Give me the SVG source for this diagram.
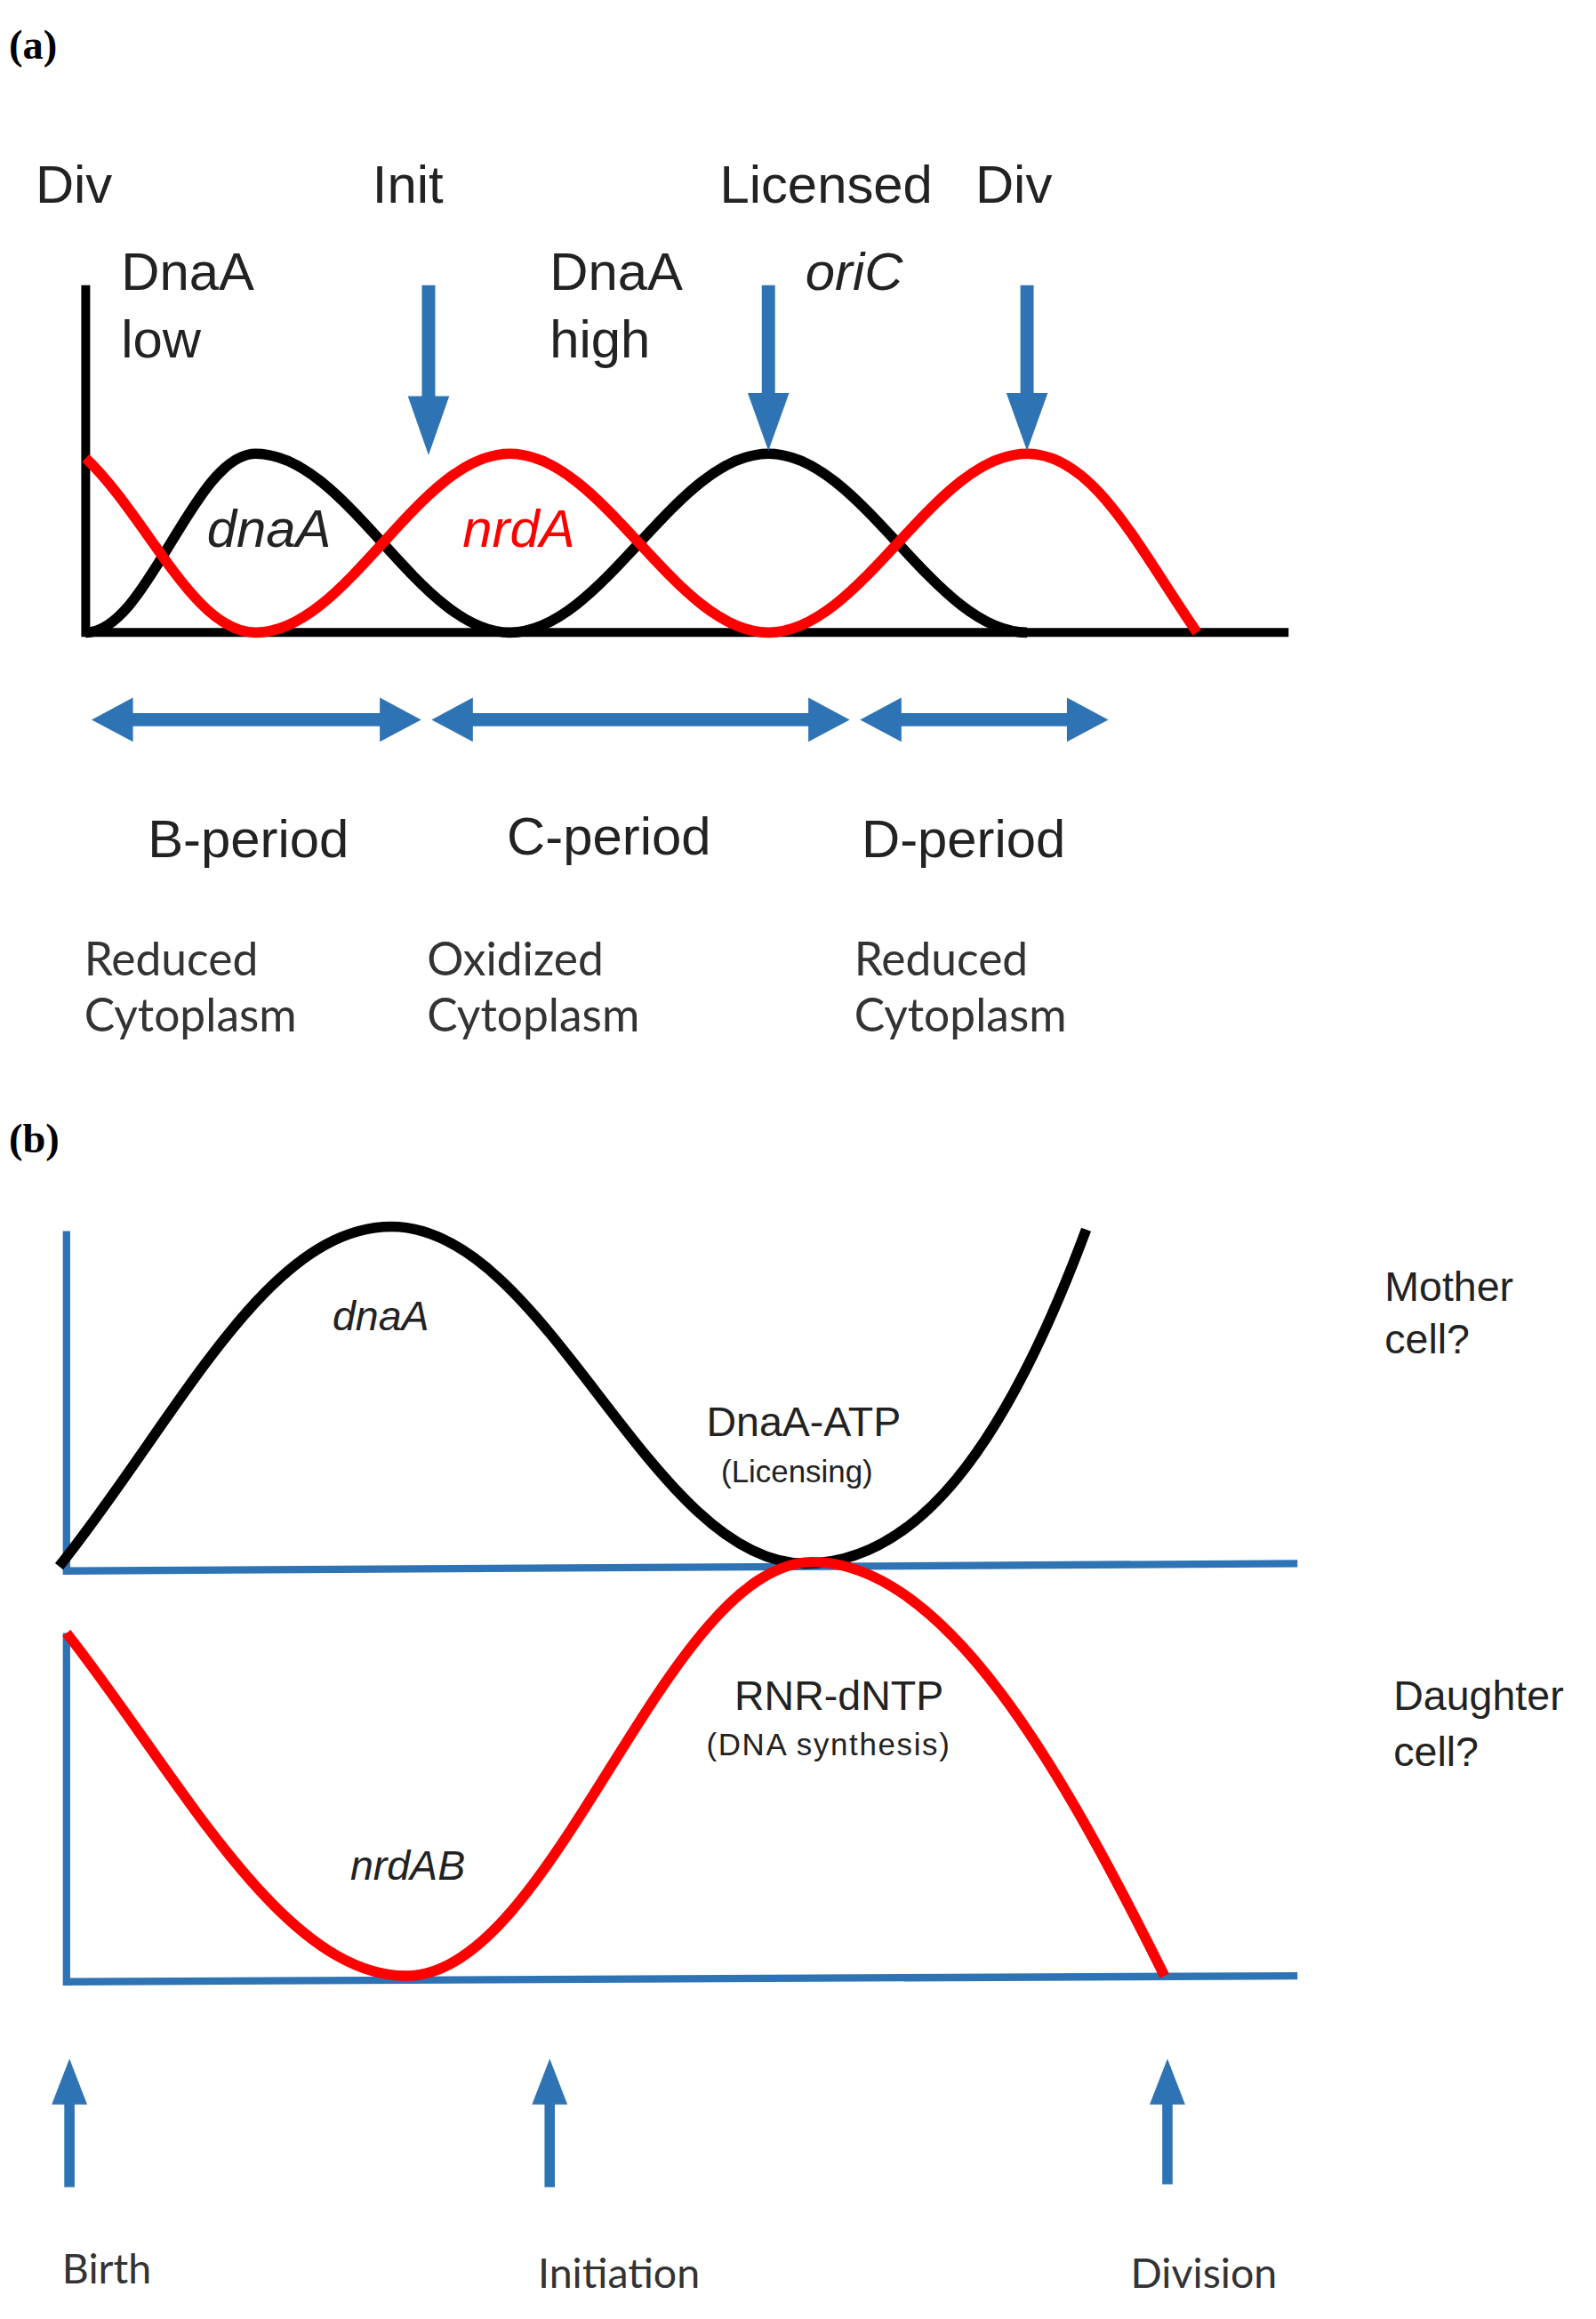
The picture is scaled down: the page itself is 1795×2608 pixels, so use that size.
<svg xmlns="http://www.w3.org/2000/svg" width="1795" height="2608" viewBox="0 0 1795 2608">
<style>
.t{font-family:"Liberation Sans",Arial,sans-serif;fill:#222}
.a{font-size:36px}
.s{font-size:31px;font-family:Lato,"Liberation Sans",sans-serif;fill:#333}
.b{font-size:28px}
.i{font-style:italic}
.lab{font-family:"Liberation Serif",serif;font-weight:bold;font-size:28px;fill:#000}
.k{fill:none;stroke:#000;stroke-width:7}
.r{fill:none;stroke:#ff0000;stroke-width:7}
.ax{fill:none;stroke:#2e74b5;stroke-width:5}
.bl{fill:#2e74b5;stroke:none}
.bs{stroke:#2e74b5;fill:none}
</style>
<rect width="1795" height="2608" fill="#fff"/>
<g transform="scale(1.662)">
<text class="lab" x="6" y="40">(a)</text>
<text class="lab" x="6" y="780">(b)</text>
<g id="a-labels">
<text class="t a" x="24" y="137">Div</text>
<text class="t a" x="252" y="137">Init</text>
<text class="t a" x="487" y="137">Licensed</text>
<text class="t a" x="660" y="137">Div</text>
<text class="t a" x="82" y="196">DnaA</text>
<text class="t a" x="82" y="242">low</text>
<text class="t a" x="372" y="196">DnaA</text>
<text class="t a" x="372" y="242">high</text>
<text class="t a i" x="545" y="196">oriC</text>
<text class="t a i" x="140" y="370">dnaA</text>
<text class="t a i" x="313" y="370" style="fill:#ff0000">nrdA</text>
<text class="t a" x="100" y="580">B-period</text>
<text class="t a" x="343" y="578">C-period</text>
<text class="t a" x="583" y="580">D-period</text>
<text class="s" x="57" y="660">Reduced</text>
<text class="s" x="57" y="698">Cytoplasm</text>
<text class="s" x="289" y="660">Oxidized</text>
<text class="s" x="289" y="698">Cytoplasm</text>
<text class="s" x="578" y="660">Reduced</text>
<text class="s" x="578" y="698">Cytoplasm</text>
</g>
<g id="a-axes">
<polyline class="k" points="58,193 58,428 872,428" style="stroke-width:6"/>
</g>
<g id="a-curves">
<path class="k" d="M58,428 C100,428 131,307 173,307 C235,307 283,428 345,428 C408,428 457,307 520,307 C583,307 632,428 695,428"/>
<path class="r" d="M58,310 C100,350 131,428 173,428 C235,428 283,307 345,307 C408,307 457,428 520,428 C583,428 632,307 695,307 C740,307 770,370 810,428"/>
</g>
<g id="a-arrows">
<line class="bs" x1="290" y1="193" x2="290" y2="272" stroke-width="9"/>
<polygon class="bl" points="276,268 304,268 290,308"/>
<line class="bs" x1="520" y1="193" x2="520" y2="270" stroke-width="9"/>
<polygon class="bl" points="506,266 534,266 520,305"/>
<line class="bs" x1="695" y1="193" x2="695" y2="270" stroke-width="9"/>
<polygon class="bl" points="681,266 709,266 695,305"/>
<line class="bs" x1="85" y1="487" x2="262" y2="487" stroke-width="9"/>
<polygon class="bl" points="62,487 90,472 90,502"/><polygon class="bl" points="285,487 257,472 257,502"/>
<line class="bs" x1="315" y1="487" x2="552" y2="487" stroke-width="9"/>
<polygon class="bl" points="292,487 320,472 320,502"/><polygon class="bl" points="575,487 547,472 547,502"/>
<line class="bs" x1="605" y1="487" x2="727" y2="487" stroke-width="9"/>
<polygon class="bl" points="582,487 610,472 610,502"/><polygon class="bl" points="750,487 722,472 722,502"/>
</g>
<g id="b-axes">
<polyline class="ax" points="45,833 45,1063 878,1058"/>
<polyline class="ax" points="45,1105 45,1341 878,1337"/>
</g>
<g id="b-curves">
<path class="k" d="M40,1060 C120,960 180,830 265,830 C370,830 440,1058 545,1058 C620,1058 680,980 735,832"/>
<path class="r" d="M45,1105 C120,1200 190,1337 275,1337 C375,1337 450,1057 550,1057 C640,1057 720,1200 788,1337"/>
</g>
<g id="b-labels">
<text class="t b i" x="225" y="900">dnaA</text>
<text class="t b" x="478" y="972">DnaA-ATP</text>
<text class="t" style="font-size:21px" x="488" y="1003">(Licensing)</text>
<text class="t b" x="497" y="1157">RNR-dNTP</text>
<text class="t" style="font-size:21px;letter-spacing:1px" x="478" y="1188">(DNA synthesis)</text>
<text class="t b i" x="237" y="1272">nrdAB</text>
<text class="t b" x="937" y="880">Mother</text>
<text class="t b" x="937" y="916">cell?</text>
<text class="t b" x="943" y="1157">Daughter</text>
<text class="t b" x="943" y="1195">cell?</text>
<text class="s" style="font-size:28px" x="42" y="1545">Birth</text>
<text class="s" style="font-size:28px" x="364" y="1548">Initiation</text>
<text class="s" style="font-size:28px" x="765" y="1548">Division</text>
</g>
<g id="b-arrows">
<line class="bs" x1="47" y1="1480" x2="47" y2="1420" stroke-width="7"/>
<polygon class="bl" points="35,1424 59,1424 47,1393"/>
<line class="bs" x1="372" y1="1480" x2="372" y2="1420" stroke-width="7"/>
<polygon class="bl" points="360,1424 384,1424 372,1393"/>
<line class="bs" x1="790" y1="1478" x2="790" y2="1420" stroke-width="7"/>
<polygon class="bl" points="778,1424 802,1424 790,1393"/>
</g>
</g>
</svg>
